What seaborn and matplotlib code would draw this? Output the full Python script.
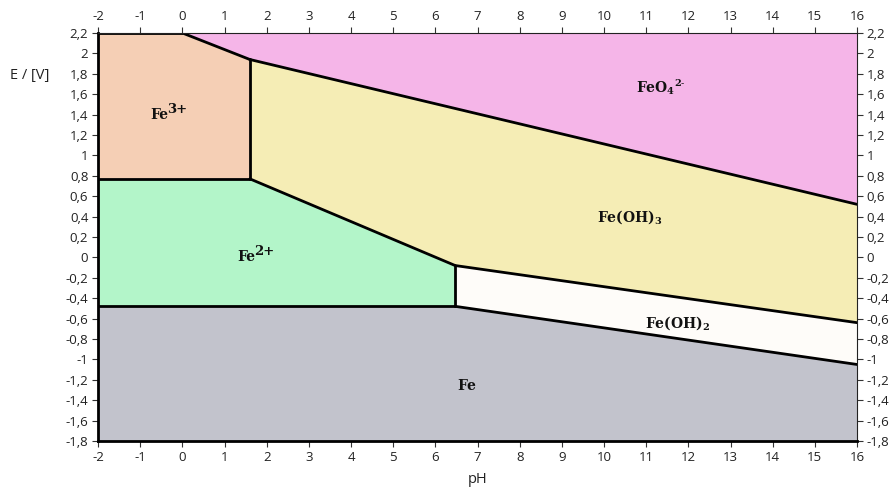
import matplotlib
matplotlib.use("Agg")
import matplotlib.pyplot as plt
import seaborn as sns
import numpy as np
import pandas as pd
from matplotlib.ticker import FuncFormatter, MultipleLocator

# --- data (boundary vertices) ---
fe3_poly_x = [-2, 0, 1.6, 1.6, -2]
fe3_poly_y = [2.2, 2.2, 1.94, 0.77, 0.77]
feo4_poly_x = [0, 16, 16, 1.6]
feo4_poly_y = [2.2, 2.2, 0.52, 1.94]
feoh3_poly_x = [1.6, 16, 16, 6.47, 1.6]
feoh3_poly_y = [1.94, 0.52, -0.64, -0.08, 0.77]
fe2_poly_x = [-2, 1.6, 6.47, 6.47, -2]
fe2_poly_y = [0.77, 0.77, -0.08, -0.48, -0.48]
feoh2_poly_x = [6.47, 16, 16, 6.47]
feoh2_poly_y = [-0.08, -0.64, -1.05, -0.48]
fe_poly_x = [-2, 6.47, 16, 16, -2]
fe_poly_y = [-0.48, -0.48, -1.05, -1.8, -1.8]

# boundary lines
lines = {
    "top_fe3": ([-2, 0], [2.2, 2.2]),
    "fe3_feo4": ([0, 1.6], [2.2, 1.94]),
    "feo4_feoh3": ([1.6, 16], [1.94, 0.52]),
    "fe3_vertical": ([1.6, 1.6], [1.94, 0.77]),
    "fe3_fe2": ([-2, 1.6], [0.77, 0.77]),
    "fe2_feoh3": ([1.6, 6.47], [0.77, -0.08]),
    "feoh3_feoh2": ([6.47, 16], [-0.08, -0.64]),
    "fe2_vertical": ([6.47, 6.47], [-0.08, -0.48]),
    "fe2_fe": ([-2, 6.47], [-0.48, -0.48]),
    "feoh2_fe": ([6.47, 16], [-0.48, -1.05]),
}

# labels: base text (mathtext) and a large superscript drawn as separate text
label_base = ["Fe", r"$\mathbf{FeO_4{}^{2\text{-}}}$", r"$\mathbf{Fe(OH)_3}$",
              "Fe", r"$\mathbf{Fe(OH)_2}$", r"$\mathbf{Fe}$"]
label_sup = ["3+", "", "", "2+", "", ""]
label_x = [-0.77, 11.35, 10.6, 1.3, 11.75, 6.75]
label_y = [1.40, 1.67, 0.39, 0.00, -0.64, -1.27]

colors = {
    "fe3": "#f5cfb5",
    "feo4": "#f5b5e8",
    "feoh3": "#f5edb5",
    "fe2": "#b3f5c9",
    "feoh2": "#fefcf9",
    "fe": "#c2c3cc",
}

sns.set_theme(style="white")
plt.rcParams["font.family"] = ["Open Sans", "DejaVu Sans"]
plt.rcParams["mathtext.fontset"] = "dejavuserif"

fig = plt.figure(figsize=(8.96, 4.92), dpi=100)
ax = fig.add_axes([0.1094, 0.1037, 0.9565 - 0.1094, 0.933 - 0.1037])

for px, py, c in [
    (fe3_poly_x, fe3_poly_y, colors["fe3"]),
    (feo4_poly_x, feo4_poly_y, colors["feo4"]),
    (feoh3_poly_x, feoh3_poly_y, colors["feoh3"]),
    (fe2_poly_x, fe2_poly_y, colors["fe2"]),
    (feoh2_poly_x, feoh2_poly_y, colors["feoh2"]),
    (fe_poly_x, fe_poly_y, colors["fe"]),
]:
    ax.fill(px, py, color=c, lw=0, zorder=1)

for name, (lx, ly) in lines.items():
    df = pd.DataFrame({"x": lx, "y": ly})
    sns.lineplot(data=df, x="x", y="y", sort=False, color="black", lw=2.0,
                 ax=ax, zorder=3, estimator=None)

for t, s, x, y in zip(label_base, label_sup, label_x, label_y):
    if s:
        ax.text(x, y, t, ha="left", va="center", fontsize=10, family="DejaVu Serif",
                fontweight="bold", color="#111111", zorder=4)
        ax.annotate(s, xy=(x, y), xytext=(12.5, 4), textcoords="offset points",
                    ha="left", va="center", fontsize=9.5, family="DejaVu Serif",
                    fontweight="bold", color="#111111", zorder=4)
    else:
        ax.text(x, y, t, ha="center", va="center", fontsize=10,
                color="#111111", zorder=4)

ax.set_xlim(-2, 16)
ax.set_ylim(-1.8, 2.2)
ax.xaxis.set_major_locator(MultipleLocator(1))
ax.yaxis.set_major_locator(MultipleLocator(0.2))

def fmt(v, pos):
    s = f"{v:.1f}".rstrip("0").rstrip(".")
    if s in ("-0",):
        s = "0"
    return s.replace(".", ",")

ax.xaxis.set_major_formatter(FuncFormatter(fmt))
ax.yaxis.set_major_formatter(FuncFormatter(fmt))
ax.tick_params(axis="both", which="major", direction="out", length=4, width=0.8,
               color="#333333", labelsize=9.5, labelcolor="#222222",
               top=True, right=True, labeltop=True, labelright=True,
               bottom=True, left=True, pad=3)

for side in ["top", "right"]:
    ax.spines[side].set_linewidth(0.8)
    ax.spines[side].set_color("#222222")
for side in ["left", "bottom"]:
    ax.spines[side].set_linewidth(2.0)
    ax.spines[side].set_color("black")
for s in ax.spines.values():
    s.set_zorder(5)

ax.set_xlabel("pH", fontsize=10.5, color="#222222", labelpad=6)
ax.set_ylabel("")
fig.text(30 / 896, 1 - 75 / 492, "E / [V]", fontsize=10.5, color="#222222",
         ha="center", va="center")

fig.savefig("out.png", dpi=100)
